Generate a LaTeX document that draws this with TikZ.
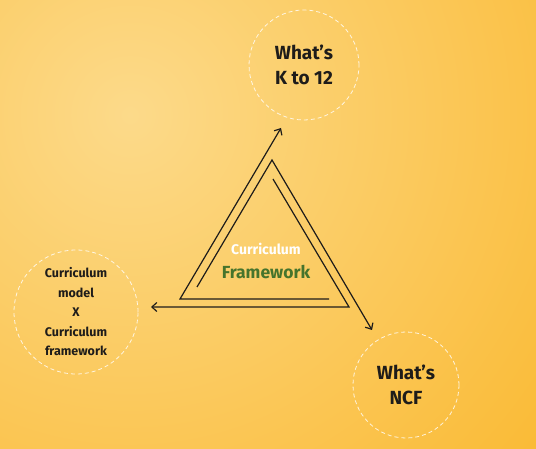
\documentclass[tikz,border=0pt]{standalone}
\usepackage{fontspec}
\setmainfont{Fira Sans}
\usetikzlibrary{arrows.meta}
\definecolor{bgin}{RGB}{252,218,138}
\definecolor{bgout}{RGB}{250,186,52}
\definecolor{fwgreen}{RGB}{70,116,44}
\definecolor{ink}{RGB}{30,28,26}
\begin{document}
\begin{tikzpicture}[x=1pt,y=-1pt,
    ring/.style={circle,inner sep=0pt,draw=white,draw opacity=0.8,
      dash pattern=on 4pt off 3pt,line width=0.8pt,text=ink,align=center},
    big/.style={font=\fontsize{19}{25}\selectfont\bfseries},
    small/.style={font=\fontsize{12.5}{19.5}\selectfont\bfseries},
    tri/.style={draw=ink,line width=1.2pt,line join=miter},
    tip/.style={-{Straight Barb[length=5pt,width=9pt]}}]
  \useasboundingbox (0,0) rectangle (536,449);
  \clip (0,0) rectangle (536,449);
  \fill[bgout] (0,0) rectangle (536,449);
  \shade[inner color=bgin,outer color=bgout] (130,115) circle (540);
  \draw
    (304,65) node[ring,big,minimum size=110pt] (k12){What's\\K to 12}
    (406,385) node[ring,big,minimum size=106pt] (ncf){What's\\NCF}
    (76,312) node[ring,small,minimum size=124pt] (model){Curriculum\\model\\X\\Curriculum\\framework}
    (266,249) node[text=white,font=\fontsize{14}{16}\selectfont\bfseries] (cur){Curriculum}
    (266,272) node[text=fwgreen,font=\fontsize{17.5}{19}\selectfont\bfseries] (frame){Framework};
  \coordinate (top) at (272,160);
  \coordinate (right) at (349,307);
  \coordinate (left) at (180,299);
  \coordinate (topin) at (273,179);
  \coordinate (rightin) at (329,299);
  \coordinate (leftin) at (197,287);
  \coordinate (toptip) at (281,128);
  \coordinate (righttip) at (372,330);
  \coordinate (lefttip) at (151,307);
  \begin{scope}[tri,tip]
    \draw (rightin) -- (left) -- (toptip);
    \draw (leftin) -- (top) -- (righttip);
    \draw (topin) -- (right) -- (lefttip);
  \end{scope}
\end{tikzpicture}
\end{document}
